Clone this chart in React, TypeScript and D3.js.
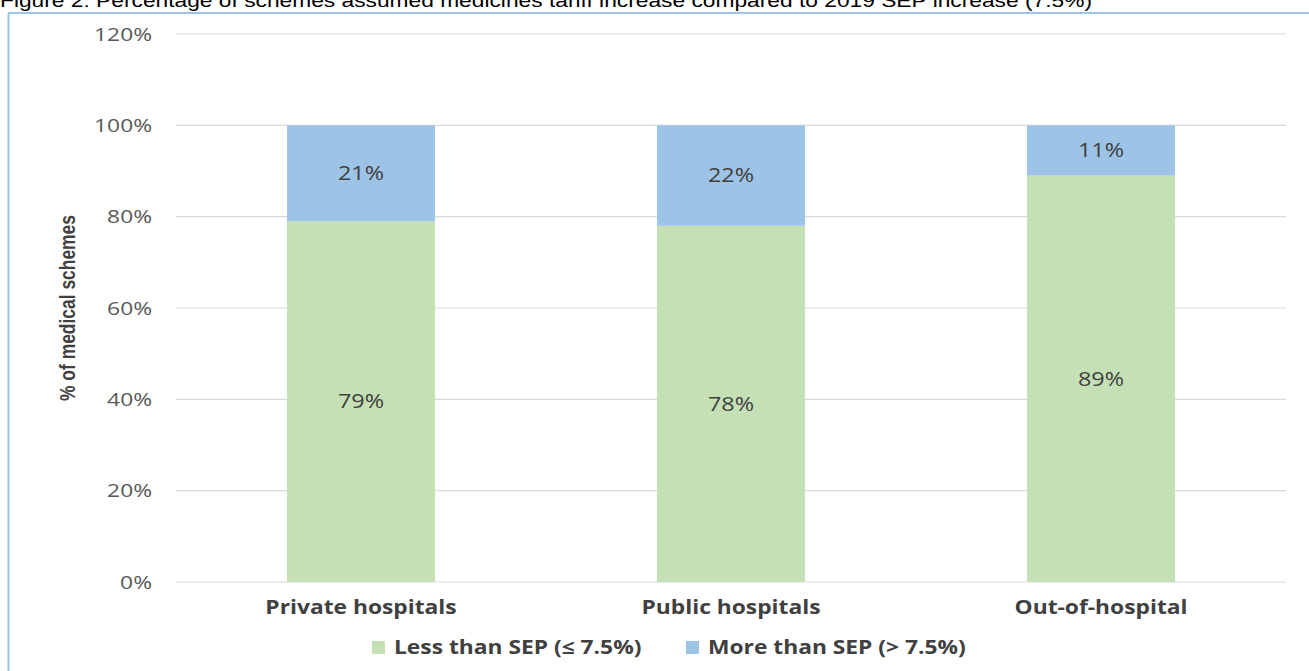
import React from "react";
import * as d3 from "d3";

const categories = ["Private hospitals", "Public hospitals", "Out-of-hospital"];
const lessThanSEP = [79, 78, 89];
const moreThanSEP = [21, 22, 11];
const seriesNames = ["Less than SEP (≤ 7.5%)", "More than SEP (> 7.5%)"];
const yTicks = [0, 20, 40, 60, 80, 100, 120];
const title =
  "Figure 2: Percentage of schemes assumed medicines tariff increase compared to 2019 SEP increase (7.5%)";

const W = 1309;
const H = 671;
const colors = ["#C5E0B4", "#9DC3E6"];
const font = "'Open Sans', 'DejaVu Sans', sans-serif";
const SX = 1.2; // horizontal stretch seen in the reference

const tr = (x: number, y: number) => `translate(${x},${y}) scale(${SX},1)`;

export default function App() {
  const x = d3
    .scaleBand<string>()
    .domain(categories)
    .range([176, 1286])
    .paddingInner(0.6)
    .paddingOuter(0.3);
  const y = d3.scaleLinear().domain([0, 120]).range([582, 34]);

  const rows = categories.map((c, i) => ({
    cat: c,
    less: lessThanSEP[i],
    more: moreThanSEP[i],
  }));
  const stack = d3.stack<any>().keys(["less", "more"])(rows);

  return (
    <svg
      width={W}
      height={H}
      style={{ position: "absolute", left: 0, top: 0, background: "#fff" }}
    >
      <text
        x={0}
        y={7}
        fontFamily="'Liberation Sans Narrow', 'Liberation Sans', Arial, sans-serif"
        fontSize={19}
        fill="#000"
        textLength={1092}
        lengthAdjust="spacingAndGlyphs"
      >
        {title}
      </text>
      {/* frame */}
      <line x1={8.5} x2={8.5} y1={13} y2={H} stroke="#9DC3E6" strokeWidth={2} />
      <line x1={8} x2={W} y1={13} y2={13} stroke="#9DC3E6" strokeWidth={2} />

      {/* gridlines and ticks */}
      {yTicks.map((t) => (
        <g key={t}>
          <line
            x1={176}
            x2={1286}
            y1={y(t)}
            y2={y(t)}
            stroke="#D9D9D9"
            strokeWidth={1.2}
          />
          <text
            transform={tr(152, y(t))}
            dy="0.35em"
            textAnchor="end"
            fontFamily={font}
            fontSize={19}
            fill="#595959"
          >
            {t}%
          </text>
        </g>
      ))}

      {/* bars */}
      {stack.map((s, si) =>
        s.map((d, i) => (
          <rect
            key={si + "-" + i}
            x={x(categories[i])!}
            y={y(d[1])}
            width={x.bandwidth()}
            height={y(d[0]) - y(d[1])}
            fill={colors[si]}
          />
        ))
      )}
      {/* data labels */}
      {stack.map((s, si) =>
        s.map((d, i) => (
          <text
            key={"l" + si + "-" + i}
            transform={tr(
              x(categories[i])! + x.bandwidth() / 2,
              y((d[0] + d[1]) / 2)
            )}
            dy="0.35em"
            textAnchor="middle"
            fontFamily={font}
            fontSize={19.5}
            fill="#404040"
          >
            {Math.round(d[1] - d[0])}%
          </text>
        ))
      )}

      {/* category labels */}
      {categories.map((c) => (
        <text
          key={c}
          transform={tr(x(c)! + x.bandwidth() / 2, 607)}
          dy="0.35em"
          textAnchor="middle"
          fontFamily={font}
          fontWeight="bold"
          fontSize={19}
          fill="#404040"
        >
          {c}
        </text>
      ))}

      {/* y axis title */}
      <text
        transform="translate(67,308) rotate(-90)"
        textAnchor="middle"
        dy="0.35em"
        fontFamily="'Liberation Sans Narrow', 'Liberation Sans', Arial, sans-serif"
        fontWeight="bold"
        fontSize={22}
        fill="#404040"
        textLength={186}
        lengthAdjust="spacingAndGlyphs"
      >
        % of medical schemes
      </text>

      {/* legend */}
      {seriesNames.map((n, i) => {
        const lx = [372, 686][i];
        return (
          <g key={n}>
            <rect x={lx} y={641} width={13} height={13} fill={colors[i]} />
            <text
              transform={tr(lx + 22, 647)}
              dy="0.35em"
              fontFamily={font}
              fontWeight="bold"
              fontSize={19}
              fill="#404040"
            >
              {n}
            </text>
          </g>
        );
      })}
    </svg>
  );
}
